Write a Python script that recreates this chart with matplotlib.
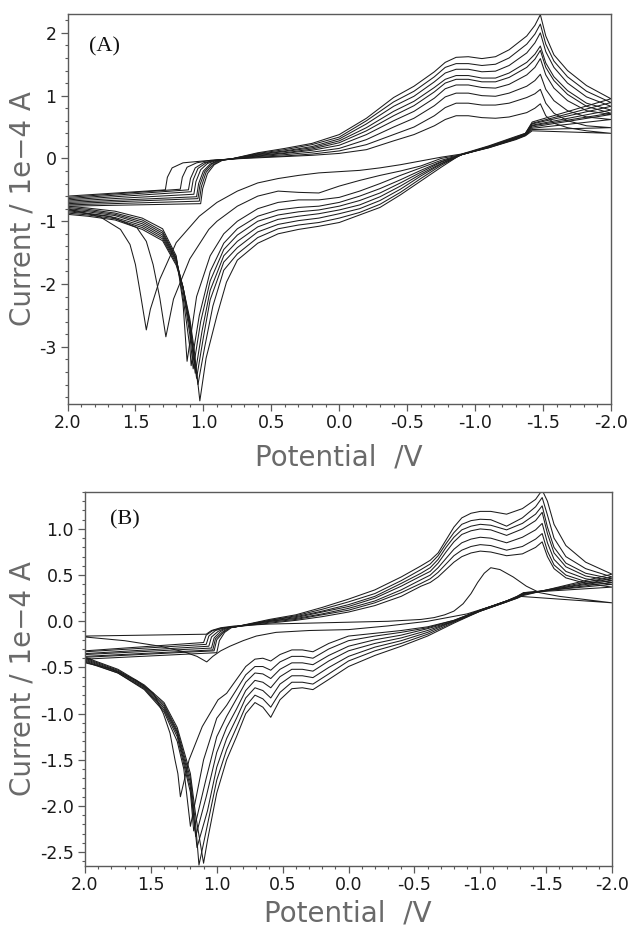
import matplotlib
matplotlib.use('Agg')
import matplotlib.pyplot as plt
from matplotlib.ticker import MultipleLocator, FormatStrFormatter

plt.rcParams['axes.unicode_minus'] = False
plt.rcParams['font.family'] = ['DejaVu Sans']

# ---------------- Panel A data (potential in V, current in 1e-4 A) ----------------
A_START_I = [-0.60, -0.62, -0.64, -0.66, -0.68, -0.70, -0.72, -0.74, -0.76]
A_CORNER_E = [1.28, 1.17, 1.11, 1.09, 1.07, 1.05, 1.04, 1.03, 1.02]
A_CORNER_I = [-0.50, -0.49, -0.50, -0.53, -0.57, -0.61, -0.64, -0.68, -0.72]
A_RISE_E = [[1.265, 1.23, 1.15, 1.00], [1.155, 1.12, 1.05, 0.95], [1.095, 1.06, 1.00, 0.92],
            [1.075, 1.04, 0.98, 0.91], [1.055, 1.02, 0.97, 0.90], [1.035, 1.00, 0.95, 0.89],
            [1.025, 0.99, 0.94, 0.88], [1.015, 0.98, 0.93, 0.87], [1.005, 0.97, 0.92, 0.86]]
A_RISE_I = [[-0.30, -0.15, -0.07, -0.04], [-0.30, -0.14, -0.07, -0.03], [-0.32, -0.15, -0.07, -0.03],
            [-0.34, -0.16, -0.07, -0.03], [-0.37, -0.18, -0.08, -0.03], [-0.40, -0.20, -0.09, -0.03],
            [-0.42, -0.21, -0.09, -0.03], [-0.45, -0.22, -0.10, -0.03], [-0.48, -0.24, -0.10, -0.03]]
A_UP_E = [0.8, 0.6, 0.4, 0.2, 0.0, -0.2, -0.4, -0.55, -0.7, -0.78, -0.86, -0.95, -1.05, -1.15, -1.25,
          -1.38, -1.44, -1.48, -1.52, -1.58, -1.68, -1.82, -2.0]
A_UP_I = [
    [-0.01, 0.01, 0.03, 0.05, 0.08, 0.14, 0.28, 0.38, 0.52, 0.62, 0.68, 0.68, 0.65, 0.64, 0.66, 0.73, 0.80, 0.87, 0.68, 0.56, 0.49, 0.44, 0.40],
    [-0.01, 0.02, 0.04, 0.07, 0.12, 0.22, 0.38, 0.50, 0.68, 0.81, 0.88, 0.88, 0.85, 0.85, 0.88, 0.97, 1.03, 1.10, 0.88, 0.72, 0.60, 0.52, 0.49],
    [-0.01, 0.03, 0.06, 0.10, 0.16, 0.30, 0.50, 0.64, 0.84, 0.98, 1.04, 1.04, 1.00, 0.99, 1.04, 1.15, 1.24, 1.34, 1.10, 0.92, 0.76, 0.66, 0.62],
    [-0.01, 0.04, 0.08, 0.13, 0.21, 0.38, 0.60, 0.75, 0.96, 1.11, 1.17, 1.17, 1.13, 1.12, 1.18, 1.33, 1.45, 1.59, 1.33, 1.12, 0.92, 0.76, 0.70],
    [-0.01, 0.05, 0.09, 0.15, 0.25, 0.44, 0.68, 0.84, 1.06, 1.20, 1.26, 1.26, 1.22, 1.22, 1.29, 1.45, 1.58, 1.72, 1.45, 1.24, 1.02, 0.83, 0.72],
    [-0.01, 0.06, 0.11, 0.17, 0.28, 0.49, 0.75, 0.91, 1.13, 1.26, 1.32, 1.32, 1.28, 1.28, 1.36, 1.53, 1.66, 1.79, 1.52, 1.30, 1.08, 0.88, 0.77],
    [-0.01, 0.07, 0.12, 0.19, 0.31, 0.55, 0.83, 0.99, 1.22, 1.36, 1.42, 1.42, 1.38, 1.39, 1.48, 1.68, 1.84, 2.00, 1.70, 1.45, 1.20, 0.98, 0.83],
    [-0.01, 0.08, 0.14, 0.22, 0.34, 0.60, 0.90, 1.07, 1.30, 1.45, 1.51, 1.51, 1.48, 1.50, 1.60, 1.82, 1.98, 2.14, 1.82, 1.55, 1.30, 1.07, 0.89],
    [-0.01, 0.09, 0.16, 0.24, 0.38, 0.64, 0.97, 1.15, 1.38, 1.53, 1.61, 1.62, 1.59, 1.62, 1.73, 1.95, 2.12, 2.29, 1.95, 1.65, 1.40, 1.16, 0.95],
]
A_LOW_E = [-1.42, -1.37, -1.3, -1.1, -0.9, -0.75, -0.6, -0.45, -0.3, -0.15, 0.0, 0.15, 0.3, 0.45, 0.6, 0.75]
A_LOW_I = [
    [0.44, 0.36, 0.30, 0.17, 0.07, 0.02, -0.04, -0.10, -0.15, -0.19, -0.21, -0.23, -0.27, -0.32, -0.39, -0.52],
    [0.46, 0.37, 0.31, 0.17, 0.06, 0.00, -0.12, -0.20, -0.27, -0.35, -0.44, -0.55, -0.54, -0.52, -0.60, -0.76],
    [0.48, 0.37, 0.31, 0.18, 0.06, -0.03, -0.15, -0.27, -0.40, -0.52, -0.62, -0.66, -0.66, -0.70, -0.80, -1.00],
    [0.50, 0.38, 0.32, 0.18, 0.06, -0.05, -0.19, -0.34, -0.48, -0.60, -0.70, -0.76, -0.78, -0.82, -0.92, -1.12],
    [0.52, 0.38, 0.32, 0.18, 0.06, -0.06, -0.22, -0.39, -0.55, -0.67, -0.76, -0.82, -0.85, -0.90, -1.00, -1.22],
    [0.53, 0.39, 0.33, 0.19, 0.06, -0.08, -0.25, -0.44, -0.61, -0.74, -0.82, -0.88, -0.92, -0.97, -1.09, -1.32],
    [0.55, 0.39, 0.33, 0.19, 0.06, -0.09, -0.28, -0.49, -0.67, -0.80, -0.88, -0.95, -0.99, -1.05, -1.17, -1.42],
    [0.56, 0.40, 0.34, 0.19, 0.06, -0.11, -0.32, -0.54, -0.73, -0.86, -0.95, -1.02, -1.06, -1.12, -1.26, -1.52],
    [0.58, 0.40, 0.35, 0.20, 0.07, -0.14, -0.36, -0.58, -0.78, -0.90, -1.02, -1.08, -1.13, -1.20, -1.35, -1.62],
]
A_PEAK_E = [[0.90, 1.03, 1.20, 1.32, 1.39, 1.42], [0.90, 0.96, 1.10, 1.22, 1.276], [0.85, 0.95, 1.05, 1.12],
            [0.85, 0.95, 1.03, 1.09], [0.85, 0.95, 1.02, 1.075], [0.85, 0.95, 1.01, 1.06],
            [0.85, 0.95, 1.00, 1.05], [0.85, 0.93, 0.99, 1.04], [0.83, 0.90, 0.98, 1.026]]
A_PEAK_I = [[-0.70, -0.92, -1.34, -1.92, -2.40, -2.73], [-1.00, -1.13, -1.60, -2.24, -2.84], [-1.20, -1.55, -2.20, -3.23],
            [-1.35, -1.80, -2.50, -3.30], [-1.45, -1.95, -2.60, -3.35], [-1.55, -2.10, -2.75, -3.42],
            [-1.65, -2.25, -2.85, -3.50], [-1.78, -2.35, -3.00, -3.60], [-1.97, -2.50, -3.18, -3.86]]
A_TAIL_E = [[1.46, 1.50, 1.54, 1.61, 1.76, 2.0], [1.32, 1.37, 1.42, 1.49, 1.69, 2.0],
            [1.15, 1.20, 1.30, 1.45, 1.65, 1.85, 2.0], [1.10, 1.15, 1.20, 1.30, 1.45, 1.65, 1.85, 2.0],
            [1.10, 1.15, 1.20, 1.30, 1.45, 1.65, 1.85, 2.0], [1.10, 1.15, 1.20, 1.30, 1.45, 1.65, 1.85, 2.0],
            [1.10, 1.15, 1.20, 1.30, 1.45, 1.65, 1.85, 2.0], [1.10, 1.15, 1.20, 1.30, 1.45, 1.65, 1.85, 2.0],
            [1.07, 1.10, 1.15, 1.20, 1.30, 1.45, 1.65, 1.85, 2.0]]
A_TAIL_I = [[-2.20, -1.69, -1.37, -1.13, -0.93, -0.80], [-2.23, -1.69, -1.32, -1.10, -0.92, -0.83],
            [-2.30, -1.55, -1.12, -0.95, -0.84, -0.79, -0.76], [-3.00, -2.20, -1.58, -1.16, -0.98, -0.87, -0.81, -0.78],
            [-2.80, -2.10, -1.60, -1.19, -1.01, -0.89, -0.83, -0.80], [-2.70, -2.05, -1.62, -1.22, -1.04, -0.91, -0.85, -0.82],
            [-2.65, -2.05, -1.64, -1.25, -1.07, -0.94, -0.88, -0.85], [-2.60, -2.05, -1.67, -1.28, -1.10, -0.96, -0.90, -0.87],
            [-3.00, -2.55, -2.05, -1.70, -1.31, -1.13, -0.98, -0.92, -0.89]]

# ---------------- Panel B data ----------------
B1_E = [2.0, 1.08, 1.04, 0.97, 0.86, 0.6, 0.3, 0.0, -0.3, -0.55, -0.65, -0.73, -0.8, -0.87, -0.93, -0.98,
        -1.03, -1.08, -1.15, -1.25, -1.35, -1.45, -1.6, -2.0,
        -1.6, -1.3, -1.1, -0.9, -0.6, -0.3, 0.0, 0.3, 0.55, 0.7, 0.8, 0.9, 0.97, 1.03, 1.076,
        1.15, 1.25, 1.43, 1.7, 2.0]
B1_I = [-0.16, -0.14, -0.10, -0.07, -0.05, -0.03, -0.02, -0.01, 0.00, 0.02, 0.04, 0.07, 0.11, 0.19, 0.30, 0.42,
        0.52, 0.58, 0.56, 0.48, 0.38, 0.31, 0.27, 0.20,
        0.24, 0.27, 0.17, 0.08, 0.00, -0.05, -0.09, -0.10, -0.12, -0.16, -0.21, -0.27, -0.32, -0.38, -0.44,
        -0.38, -0.33, -0.27, -0.21, -0.17]

B_START_I = [-0.32, -0.33, -0.35, -0.36, -0.38, -0.39, -0.41]
B_CORNER_E = [1.10, 1.08, 1.06, 1.04, 1.03, 1.02, 1.00]
B_CORNER_I = [-0.23, -0.25, -0.27, -0.29, -0.31, -0.32, -0.34]
B_RISE_E = [[1.08, 1.03, 0.95], [1.06, 1.01, 0.94], [1.04, 0.99, 0.93], [1.02, 0.97, 0.92],
            [1.01, 0.96, 0.91], [1.00, 0.95, 0.90], [0.98, 0.94, 0.89]]
B_RISE_I = [[-0.15, -0.10, -0.07], [-0.16, -0.10, -0.07], [-0.17, -0.11, -0.07], [-0.18, -0.11, -0.07],
            [-0.19, -0.12, -0.07], [-0.20, -0.12, -0.07], [-0.21, -0.12, -0.07]]
B_UP_E = [0.86, 0.6, 0.4, 0.2, 0.0, -0.2, -0.4, -0.55, -0.62, -0.68, -0.74, -0.8, -0.86, -0.93, -1.0,
          -1.08, -1.2, -1.32, -1.42, -1.47, -1.51, -1.56, -1.65, -1.8, -2.0]
B_UP_I = [
    [-0.06, -0.02, 0.01, 0.05, 0.10, 0.17, 0.27, 0.38, 0.42, 0.48, 0.56, 0.64, 0.70, 0.74, 0.76, 0.75, 0.71, 0.73, 0.80, 0.86, 0.70, 0.57, 0.47, 0.41, 0.37],
    [-0.06, -0.01, 0.02, 0.07, 0.12, 0.20, 0.31, 0.41, 0.46, 0.53, 0.62, 0.71, 0.77, 0.81, 0.83, 0.82, 0.77, 0.81, 0.89, 0.95, 0.76, 0.61, 0.50, 0.43, 0.40],
    [-0.06, 0.00, 0.03, 0.08, 0.14, 0.22, 0.34, 0.45, 0.50, 0.58, 0.68, 0.78, 0.85, 0.89, 0.91, 0.90, 0.85, 0.91, 0.99, 1.06, 0.85, 0.67, 0.54, 0.46, 0.42],
    [-0.06, 0.00, 0.04, 0.10, 0.16, 0.25, 0.38, 0.49, 0.54, 0.63, 0.75, 0.86, 0.94, 0.98, 1.00, 0.99, 0.93, 1.00, 1.09, 1.18, 0.95, 0.74, 0.59, 0.49, 0.44],
    [-0.06, 0.01, 0.05, 0.11, 0.18, 0.27, 0.41, 0.52, 0.58, 0.67, 0.80, 0.91, 0.99, 1.03, 1.05, 1.04, 0.99, 1.06, 1.16, 1.25, 1.02, 0.80, 0.63, 0.52, 0.46],
    [-0.06, 0.01, 0.06, 0.13, 0.21, 0.30, 0.44, 0.56, 0.62, 0.71, 0.84, 0.96, 1.05, 1.09, 1.105, 1.10, 1.03, 1.12, 1.24, 1.34, 1.15, 0.90, 0.70, 0.57, 0.48],
    [-0.06, 0.02, 0.07, 0.15, 0.24, 0.34, 0.48, 0.60, 0.66, 0.74, 0.88, 1.02, 1.12, 1.17, 1.19, 1.19, 1.16, 1.22, 1.32, 1.42, 1.30, 1.05, 0.82, 0.64, 0.51],
]
B_LOW_E = [-1.33, -1.28, -1.2, -1.0, -0.8, -0.6, -0.4, -0.2, 0.0, 0.15, 0.27, 0.35, 0.43, 0.52, 0.59,
           0.65, 0.71, 0.78, 0.85, 0.925]
B_LOW_I = [
    [0.31, 0.27, 0.22, 0.12, 0.01, -0.06, -0.10, -0.13, -0.16, -0.24, -0.33, -0.31, -0.31, -0.36, -0.43, -0.40, -0.41, -0.49, -0.63, -0.78],
    [0.31, 0.27, 0.22, 0.12, 0.01, -0.07, -0.12, -0.16, -0.21, -0.30, -0.40, -0.38, -0.38, -0.44, -0.53, -0.49, -0.49, -0.58, -0.74, -0.91],
    [0.30, 0.26, 0.22, 0.12, 0.00, -0.08, -0.15, -0.20, -0.27, -0.37, -0.47, -0.45, -0.45, -0.52, -0.62, -0.57, -0.56, -0.66, -0.84, -1.03],
    [0.30, 0.26, 0.22, 0.12, 0.00, -0.10, -0.18, -0.24, -0.32, -0.43, -0.54, -0.52, -0.52, -0.60, -0.72, -0.66, -0.64, -0.75, -0.95, -1.15],
    [0.29, 0.26, 0.21, 0.11, 0.00, -0.12, -0.21, -0.28, -0.38, -0.50, -0.61, -0.59, -0.59, -0.68, -0.83, -0.75, -0.72, -0.83, -1.05, -1.27],
    [0.29, 0.25, 0.21, 0.11, -0.01, -0.14, -0.24, -0.32, -0.43, -0.57, -0.68, -0.66, -0.66, -0.77, -0.93, -0.84, -0.80, -0.92, -1.15, -1.39],
    [0.28, 0.25, 0.21, 0.11, -0.02, -0.16, -0.27, -0.37, -0.49, -0.63, -0.74, -0.72, -0.73, -0.85, -1.04, -0.93, -0.88, -1.00, -1.25, -1.50],
]
B_PEAK_E = [[0.99, 1.11, 1.21, 1.276], [1.00, 1.10, 1.20], [1.00, 1.08, 1.175], [1.00, 1.08, 1.16],
            [1.00, 1.07, 1.15], [1.00, 1.07, 1.135], [1.00, 1.07, 1.10]]
B_PEAK_I = [[-0.85, -1.14, -1.50, -1.90], [-1.05, -1.50, -2.22], [-1.25, -1.70, -2.27], [-1.42, -1.90, -2.33],
            [-1.58, -2.05, -2.45], [-1.72, -2.20, -2.64], [-1.86, -2.37, -2.62]]
B_TAIL_E = [[1.295, 1.317, 1.355, 1.405, 1.48, 1.61, 1.81, 2.0], [1.25, 1.30, 1.40, 1.55, 1.75, 2.0],
            [1.20, 1.30, 1.40, 1.55, 1.75, 2.0], [1.20, 1.30, 1.40, 1.55, 1.75, 2.0],
            [1.20, 1.30, 1.40, 1.55, 1.75, 2.0], [1.16, 1.20, 1.30, 1.40, 1.55, 1.75, 2.0],
            [1.16, 1.20, 1.30, 1.40, 1.55, 1.75, 2.0]]
B_TAIL_I = [[-1.65, -1.50, -1.21, -1.00, -0.78, -0.64, -0.51, -0.45], [-1.60, -1.30, -0.98, -0.74, -0.56, -0.44],
            [-1.85, -1.25, -0.96, -0.73, -0.56, -0.43], [-1.80, -1.22, -0.94, -0.72, -0.55, -0.42],
            [-1.75, -1.20, -0.92, -0.71, -0.54, -0.41], [-2.20, -1.70, -1.18, -0.90, -0.70, -0.53, -0.40],
            [-2.10, -1.65, -1.15, -0.88, -0.69, -0.52, -0.39]]

X_TICKS = [2.0, 1.5, 1.0, 0.5, 0.0, -0.5, -1.0, -1.5, -2.0]
LINE_COLOR = '#1c1c1c'
FRAME_COLOR = '#5a5a5a'
LABEL_COLOR = '#6a6a6a'


def cycle(i, start_i, corner_e, corner_i, rise_e, rise_i, up_e, up_i, low_e, low_i,
          peak_e, peak_i, tail_e, tail_i):
    es = [2.0, corner_e[i]] + rise_e[i] + up_e + low_e + peak_e[i] + tail_e[i]
    vs = [start_i[i], corner_i[i]] + rise_i[i] + up_i[i] + low_i[i] + peak_i[i] + tail_i[i]
    return es, vs


def style(ax, ylim, ymajor, yminor, yfmt):
    ax.set_xlim(2.0, -2.0)
    ax.set_ylim(*ylim)
    ax.set_xticks(X_TICKS)
    ax.xaxis.set_minor_locator(MultipleLocator(0.1))
    ax.xaxis.set_major_formatter(FormatStrFormatter('%.1f'))
    ax.yaxis.set_major_locator(MultipleLocator(ymajor))
    ax.yaxis.set_minor_locator(MultipleLocator(yminor))
    ax.yaxis.set_major_formatter(FormatStrFormatter(yfmt))
    for s in ax.spines.values():
        s.set_color(FRAME_COLOR)
        s.set_linewidth(1.0)
    ax.tick_params(which='both', direction='out', color=FRAME_COLOR, top=False, right=False)
    ax.tick_params(which='major', length=5, width=0.9, labelsize=12.5, labelcolor='#1a1a1a', pad=2)
    ax.tick_params(which='minor', length=2.5, width=0.8)
    ax.tick_params(axis='y', which='major', pad=3)


fig = plt.figure(figsize=(6.32, 9.26), dpi=100)
axA = fig.add_axes([67.5 / 632, 1 - 404 / 926, 543.5 / 632, 390 / 926])
axB = fig.add_axes([85 / 632, 1 - 866 / 926, 527 / 632, 374 / 926])

for i in range(len(A_START_I)):
    e, v = cycle(i, A_START_I, A_CORNER_E, A_CORNER_I, A_RISE_E, A_RISE_I, A_UP_E, A_UP_I,
                 A_LOW_E, A_LOW_I, A_PEAK_E, A_PEAK_I, A_TAIL_E, A_TAIL_I)
    axA.plot(e, v, color=LINE_COLOR, lw=0.75)

axB.plot(B1_E, B1_I, color=LINE_COLOR, lw=0.75)
for i in range(len(B_START_I)):
    e, v = cycle(i, B_START_I, B_CORNER_E, B_CORNER_I, B_RISE_E, B_RISE_I, B_UP_E, B_UP_I,
                 B_LOW_E, B_LOW_I, B_PEAK_E, B_PEAK_I, B_TAIL_E, B_TAIL_I)
    axB.plot(e, v, color=LINE_COLOR, lw=0.75)

style(axA, (-3.91, 2.30), 1, 0.2, '%d')
style(axB, (-2.65, 1.40), 0.5, 0.1, '%.1f')

axA.text(0.04, 0.915, '(A)', transform=axA.transAxes, fontsize=16,
         family='Liberation Serif', va='center', ha='left', color='#111')
axB.text(0.047, 0.925, '(B)', transform=axB.transAxes, fontsize=16,
         family='Liberation Serif', va='center', ha='left', color='#111')

ylab = 'Current / 1e\u22124 A'
fig.text(23 / 632, 1 - 209 / 926, ylab, rotation=90, ha='center', va='center',
         fontsize=20, color=LABEL_COLOR)
fig.text(23 / 632, 1 - 679 / 926, ylab, rotation=90, ha='center', va='center',
         fontsize=20, color=LABEL_COLOR)
fig.text(339 / 632, 1 - 458 / 926, 'Potential  /V', ha='center', va='center',
         fontsize=20, color=LABEL_COLOR)
fig.text(348 / 632, 1 - 913 / 926, 'Potential  /V', ha='center', va='center',
         fontsize=20, color=LABEL_COLOR)

fig.savefig('out.png', dpi=100, facecolor='white')
